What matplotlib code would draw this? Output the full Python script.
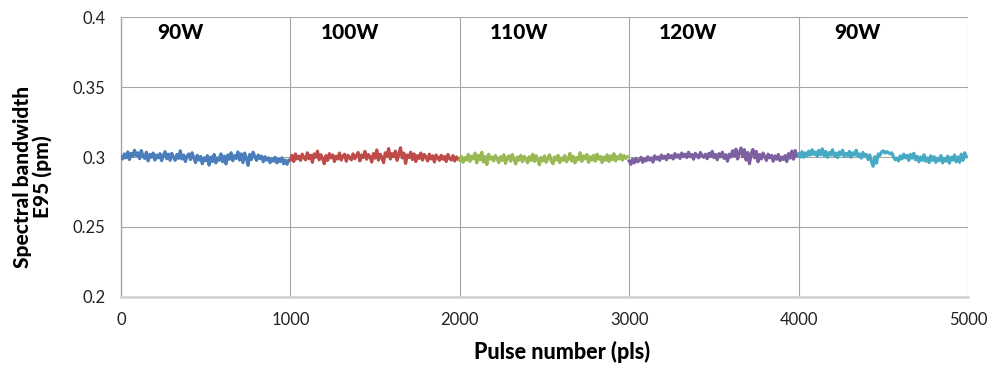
import numpy as np
import matplotlib
matplotlib.use("Agg")
import matplotlib.pyplot as plt

plt.rcParams['font.family'] = ['Lato', 'DejaVu Sans']

power_labels = ["90W", "100W", "110W", "120W", "90W"]
segment_starts = [0, 1000, 2000, 3000, 4000]
colors = ["#4a7ebb", "#be4b48", "#98b954", "#7d60a0", "#46aac5"]

seg_90w_a = [
    0.3002, 0.2986, 0.3022, 0.2994, 0.3036, 0.2982, 0.3026, 0.3004, 0.3048, 0.3010,
    0.3030, 0.2988, 0.3046, 0.3006, 0.2990, 0.3034, 0.2972, 0.3018, 0.2998, 0.3028,
    0.2978, 0.3014, 0.2994, 0.3024, 0.2974, 0.3010, 0.3038, 0.2988, 0.3020, 0.2976,
    0.3026, 0.2998, 0.2976, 0.3018, 0.2990, 0.3044, 0.2986, 0.3014, 0.2968, 0.3006,
    0.3022, 0.2982, 0.3030, 0.2994, 0.2960, 0.3012, 0.2978, 0.3004, 0.2952, 0.2994,
    0.2974, 0.3010, 0.2942, 0.3000, 0.2968, 0.3018, 0.2958, 0.2994, 0.2976, 0.3022,
    0.2966, 0.3006, 0.2950, 0.3014, 0.2984, 0.3030, 0.2974, 0.3010, 0.2990, 0.3036,
    0.2978, 0.3022, 0.2960, 0.3028, 0.2994, 0.2940, 0.3018, 0.2982, 0.3034, 0.3002,
    0.2976, 0.3014, 0.2988, 0.3006, 0.2966, 0.3002, 0.2978, 0.2994, 0.2960, 0.2988,
    0.2970, 0.2998, 0.2958, 0.2984, 0.2968, 0.2994, 0.2952, 0.2978, 0.2948, 0.2976,
]
seg_100w = [
    0.2980, 0.3012, 0.2968, 0.3022, 0.2986, 0.3006, 0.2976, 0.3020, 0.2994, 0.2980,
    0.3030, 0.2988, 0.3012, 0.2962, 0.3022, 0.2998, 0.3042, 0.2980, 0.3016, 0.2990,
    0.2952, 0.3010, 0.2976, 0.3024, 0.2994, 0.3014, 0.2968, 0.3006, 0.2986, 0.3028,
    0.2978, 0.3004, 0.3020, 0.2970, 0.3012, 0.2994, 0.2980, 0.3022, 0.2988, 0.3010,
    0.3032, 0.2972, 0.3014, 0.2996, 0.3040, 0.2984, 0.3018, 0.3002, 0.2964, 0.3024,
    0.2992, 0.3050, 0.2978, 0.3020, 0.2998, 0.2960, 0.3030, 0.3006, 0.3060, 0.2986,
    0.3024, 0.3002, 0.3042, 0.2976, 0.3020, 0.3066, 0.2994, 0.3028, 0.2954, 0.3014,
    0.2996, 0.3034, 0.2982, 0.3022, 0.2968, 0.3010, 0.2990, 0.3028, 0.2978, 0.3018,
    0.3000, 0.2972, 0.3020, 0.2986, 0.3008, 0.2964, 0.3014, 0.2994, 0.2976, 0.3012,
    0.2984, 0.3004, 0.2968, 0.3018, 0.2990, 0.2978, 0.3010, 0.2972, 0.3000, 0.2986,
]
seg_110w = [
    0.2976, 0.3004, 0.2962, 0.2996, 0.2978, 0.3018, 0.2968, 0.3006, 0.2986, 0.3028,
    0.2958, 0.3012, 0.2980, 0.3034, 0.2964, 0.3004, 0.2946, 0.3020, 0.2984, 0.3000,
    0.2972, 0.3010, 0.2988, 0.2960, 0.3002, 0.2976, 0.3016, 0.2954, 0.2994, 0.3008,
    0.2970, 0.3018, 0.2984, 0.2950, 0.3000, 0.2978, 0.3012, 0.2966, 0.3004, 0.2986,
    0.2958, 0.3002, 0.2976, 0.3020, 0.2968, 0.3010, 0.2980, 0.2944, 0.2996, 0.2972,
    0.3008, 0.2962, 0.2992, 0.3016, 0.2970, 0.2952, 0.3000, 0.2978, 0.3012, 0.2960,
    0.2994, 0.2976, 0.3010, 0.2966, 0.2986, 0.3026, 0.2972, 0.3004, 0.2958, 0.2996,
    0.2980, 0.3030, 0.2968, 0.3008, 0.2986, 0.3018, 0.2962, 0.3002, 0.2978, 0.3012,
    0.2970, 0.3020, 0.2984, 0.3004, 0.2960, 0.3000, 0.2976, 0.3016, 0.2968, 0.3008,
    0.2980, 0.3024, 0.2972, 0.3004, 0.2986, 0.3018, 0.2978, 0.3010, 0.2990, 0.3002,
]
seg_120w = [
    0.2972, 0.2948, 0.2984, 0.2958, 0.2990, 0.2966, 0.2978, 0.2998, 0.2962, 0.2988,
    0.2972, 0.3002, 0.2978, 0.2994, 0.2964, 0.3008, 0.2984, 0.3000, 0.2976, 0.3014,
    0.2990, 0.3006, 0.2980, 0.3018, 0.2994, 0.3010, 0.2986, 0.3024, 0.2998, 0.3016,
    0.2990, 0.3028, 0.3004, 0.3020, 0.2996, 0.3034, 0.3002, 0.3018, 0.2984, 0.3026,
    0.3010, 0.2994, 0.3032, 0.3010, 0.2998, 0.3020, 0.2988, 0.3026, 0.3004, 0.3040,
    0.2996, 0.3018, 0.2980, 0.3024, 0.3002, 0.3034, 0.2990, 0.3016, 0.2970, 0.3020,
    0.3000, 0.3044, 0.3008, 0.3056, 0.2986, 0.3028, 0.3064, 0.3002, 0.3052, 0.2978,
    0.3032, 0.2952, 0.3022, 0.3054, 0.2994, 0.3040, 0.2966, 0.3018, 0.2986, 0.3028,
    0.3002, 0.2976, 0.3020, 0.2994, 0.3012, 0.2970, 0.3008, 0.2984, 0.3018, 0.2974,
    0.3000, 0.2982, 0.3010, 0.2968, 0.3024, 0.2992, 0.3042, 0.2984, 0.3046, 0.3008,
]
seg_90w_b = [
    0.3022, 0.3000, 0.3038, 0.2998, 0.3030, 0.3008, 0.3042, 0.3014, 0.3052, 0.3018,
    0.3036, 0.3006, 0.3048, 0.3016, 0.3058, 0.3010, 0.3040, 0.2998, 0.3032, 0.3014,
    0.3052, 0.3008, 0.3028, 0.2996, 0.3036, 0.3016, 0.3048, 0.3004, 0.3026, 0.3010,
    0.3040, 0.2998, 0.3030, 0.3014, 0.3048, 0.3006, 0.3022, 0.2992, 0.3032, 0.3008,
    0.3018, 0.2982, 0.3014, 0.2966, 0.2934, 0.3002, 0.2956, 0.3022, 0.3012, 0.3036,
    0.3044, 0.3028, 0.3038, 0.3032, 0.3022, 0.3030, 0.3002, 0.2980, 0.2992, 0.2972,
    0.3008, 0.2986, 0.3020, 0.2994, 0.3012, 0.2976, 0.3018, 0.2992, 0.3026, 0.2980,
    0.3004, 0.2966, 0.3000, 0.2976, 0.3016, 0.2970, 0.2994, 0.2960, 0.3008, 0.2976,
    0.3002, 0.2962, 0.2992, 0.2974, 0.3010, 0.2958, 0.2990, 0.2970, 0.3006, 0.2956,
    0.2998, 0.2978, 0.3014, 0.2966, 0.3000, 0.2962, 0.3020, 0.2976, 0.3030, 0.3002,
]
segments = [seg_90w_a, seg_100w, seg_110w, seg_120w, seg_90w_b]

x_ticks = [0, 1000, 2000, 3000, 4000, 5000]
y_ticks = [0.2, 0.25, 0.3, 0.35, 0.4]
y_tick_labels = ["0.2", "0.25", "0.3", "0.35", "0.4"]

fig = plt.figure(figsize=(9.9, 3.79), dpi=100)
ax = fig.add_axes([0.1222, 0.2164, 0.8556, 0.7387])

for start, vals, col in zip(segment_starts, segments, colors):
    n = len(vals)
    xs = start + np.arange(n) * (1000.0 / n)
    ax.plot(xs, vals, color=col, lw=2.3, solid_joinstyle='round', zorder=3)

for start, lab in zip(segment_starts, power_labels):
    ax.text(start + 350, 0.389, lab, ha='center', va='center',
            fontsize=15, fontweight='black', color='black', zorder=4)

ax.set_xlim(0, 5000)
ax.set_ylim(0.2, 0.4)
ax.set_xticks(x_ticks)
ax.set_yticks(y_ticks)
ax.set_yticklabels(y_tick_labels)
ax.grid(True, color='#a6a6a6', lw=0.8, zorder=0)
ax.set_axisbelow(True)

for side in ['top', 'right']:
    ax.spines[side].set_visible(False)
ax.spines['left'].set_color('#a6a6a6')
ax.spines['left'].set_linewidth(1.0)
ax.spines['bottom'].set_color('#d0d0d0')
ax.spines['bottom'].set_linewidth(1.8)

ax.tick_params(axis='both', length=0, labelsize=12, colors='#222222')
ax.tick_params(axis='x', pad=11)
ax.tick_params(axis='y', pad=11)

ax.set_xlabel("Pulse number (pls)", fontsize=15.5, fontweight='black')
ax.xaxis.set_label_coords(0.521, -0.196)
ax.xaxis.label.set_va('center')
ax.set_ylabel("Spectral bandwidth\nE95 (pm)", fontsize=15, fontweight='black',
              linespacing=1.0)
ax.yaxis.set_label_coords(-0.105, 0.43)
ax.yaxis.label.set_va('center')

fig.savefig("out.png", dpi=100)
